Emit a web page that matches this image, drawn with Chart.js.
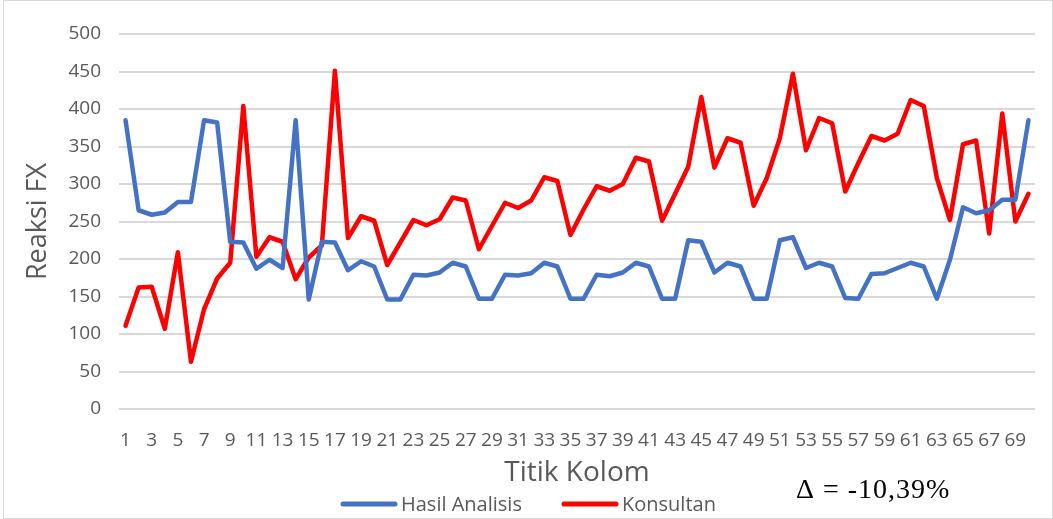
<!DOCTYPE html>
<html>
<head>
<meta charset="utf-8">
<script src="https://cdn.jsdelivr.net/npm/chart.js@4"></script>
<style>
  html, body { margin: 0; padding: 0; background: #fff; }
  #wrap { position: relative; width: 1053px; height: 519px; }
</style>
</head>
<body>
<div id="wrap"><canvas id="myChart"></canvas></div>
<script>
const titikKolom = Array.from({ length: 70 }, (_, i) => String(i + 1));

const hasilAnalisis = [
  385, 265, 259, 262, 276, 276, 385, 382, 223, 222,
  187, 199, 188, 385, 146, 223, 222, 185, 197, 190,
  146, 146, 179, 178, 182, 195, 190, 147, 147, 179,
  178, 181, 195, 190, 147, 147, 179, 177, 182, 195,
  190, 147, 147, 225, 223, 182, 195, 190, 147, 147,
  225, 229, 188, 195, 190, 148, 147, 180, 181, 188,
  195, 190, 147, 199, 269, 261, 265, 279, 279, 385
];

const konsultan = [
  111, 162, 163, 107, 209, 63, 133, 174, 195, 404,
  203, 229, 223, 173, 202, 218, 451, 228, 257, 251,
  192, 222, 252, 245, 253, 282, 278, 213, 244, 275,
  268, 278, 309, 304, 232, 266, 297, 291, 300, 335,
  330, 251, 287, 323, 416, 322, 361, 355, 271, 308,
  361, 447, 345, 388, 381, 290, 328, 364, 358, 367,
  412, 404, 308, 252, 353, 358, 234, 394, 250, 287
];

const yTicks = [0, 50, 100, 150, 200, 250, 300, 350, 400, 450, 500];
const deltaText = '\u0394 = -10,39%';

const grey = '#595959';
const sans = '"Open Sans", "Noto Sans", sans-serif';

// legend + delta note + chart frame
const extras = {
  id: 'extras',
  afterDraw(chart) {
    const c = chart.ctx;
    c.save();
    const items = [
      { x: 343, text: chart.data.datasets[0].label, color: chart.data.datasets[0].borderColor },
      { x: 564, text: chart.data.datasets[1].label, color: chart.data.datasets[1].borderColor }
    ];
    c.lineCap = 'round';
    c.lineWidth = 5;
    c.font = '20px ' + sans;
    c.textBaseline = 'alphabetic';
    c.textAlign = 'left';
    items.forEach(it => {
      c.strokeStyle = it.color;
      c.beginPath();
      c.moveTo(it.x, 504);
      c.lineTo(it.x + 52, 504);
      c.stroke();
      c.fillStyle = grey;
      c.fillText(it.text, it.x + 58, 511);
    });

    c.fillStyle = '#000';
    c.font = '28px "Liberation Serif", "Times New Roman", serif';
    c.letterSpacing = '1px';
    c.fillText(deltaText, 796, 498);
    c.letterSpacing = '0px';

    c.strokeStyle = '#d9d9d9';
    c.lineWidth = 1;
    c.strokeRect(3.5, 0.5, chart.width - 4, chart.height - 1);
    c.restore();
  }
};

new Chart(document.getElementById('myChart'), {
  type: 'line',
  data: {
    labels: titikKolom,
    datasets: [{
      label: 'Hasil Analisis',
      data: hasilAnalisis,
      borderColor: '#4472C4',
      backgroundColor: '#4472C4',
      borderWidth: 4.5,
      borderJoinStyle: 'round',
      borderCapStyle: 'round',
      pointRadius: 0,
      tension: 0
    }, {
      label: 'Konsultan',
      data: konsultan,
      borderColor: '#FF0000',
      backgroundColor: '#FF0000',
      borderWidth: 4.5,
      borderJoinStyle: 'round',
      borderCapStyle: 'round',
      pointRadius: 0,
      tension: 0
    }]
  },
  options: {
    responsive: true,
    maintainAspectRatio: false,
    animation: false,
    layout: { padding: { top: 34, right: 18, left: 22, bottom: 0 } },
    plugins: {
      legend: { display: false },
      tooltip: { enabled: false }
    },
    scales: {
      x: {
        offset: true,
        grid: { display: false },
        border: { display: false },
        ticks: {
          color: grey,
          autoSkip: false,
          maxRotation: 0,
          padding: 12,
          font: { size: 19, family: sans },
          callback: (v, i) => (i % 2 === 0 ? titikKolom[i] : '')
        },
        title: {
          display: true,
          text: 'Titik Kolom',
          color: grey,
          padding: { top: 0, bottom: 29 },
          font: { size: 28, family: sans }
        },
        afterFit: (s) => { s.height = 110; }
      },
      y: {
        min: 0,
        max: 500,
        afterBuildTicks: (s) => { s.ticks = yTicks.map(v => ({ value: v })); },
        grid: { color: '#d9d9d9', lineWidth: 2, drawTicks: false },
        border: { display: false },
        ticks: {
          color: grey,
          padding: 18,
          font: { size: 19, family: sans }
        },
        title: {
          display: true,
          text: 'Reaksi FX',
          color: grey,
          padding: { top: 0, bottom: 0 },
          font: { size: 27, family: sans }
        },
        afterFit: (s) => { s.width = 97; }
      }
    }
  },
  plugins: [extras]
});
</script>
</body>
</html>
